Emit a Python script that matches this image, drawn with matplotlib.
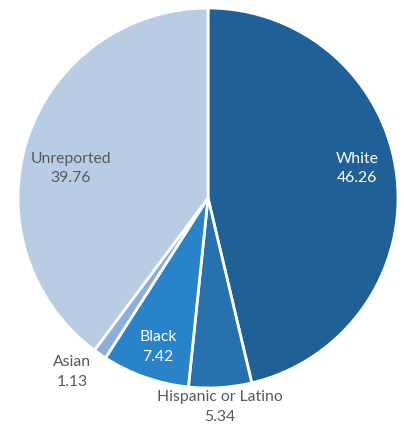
import matplotlib
matplotlib.use("Agg")
import matplotlib.pyplot as plt

# values
categories = ["White", "Hispanic or Latino", "Black", "Asian", "Unreported"]
values = [46.26, 5.34, 7.42, 1.13, 39.76]
colors = ["#1f6096", "#2671ae", "#2983c8", "#8cafd9", "#b8cce4"]

# label placement (pie units) and text colour
label_pos = [(0.784, 0.155), (0.063, -1.100), (-0.263, -0.784), (-0.716, -0.916), (-0.721, 0.155)]
label_col = ["white", "#595959", "white", "#595959", "#595959"]

plt.rcParams["font.family"] = ["Lato", "DejaVu Sans"]

fig = plt.figure(figsize=(4.04, 4.25), dpi=100)
ax = fig.add_axes([18 / 404, 37 / 425, 380 / 404, 380 / 425])
ax.pie(values, colors=colors, startangle=90, counterclock=False,
       wedgeprops=dict(edgecolor="white", linewidth=2))
for name, v, (x, y), c in zip(categories, values, label_pos, label_col):
    ax.text(x, y, f"{name}\n{v:.2f}", ha="center", va="center",
            fontsize=11.3, color=c, linespacing=1.5)
ax.set_xlim(-1, 1)
ax.set_ylim(-1, 1)
ax.set_aspect("equal")
ax.axis("off")

fig.savefig("out.png", dpi=100)
